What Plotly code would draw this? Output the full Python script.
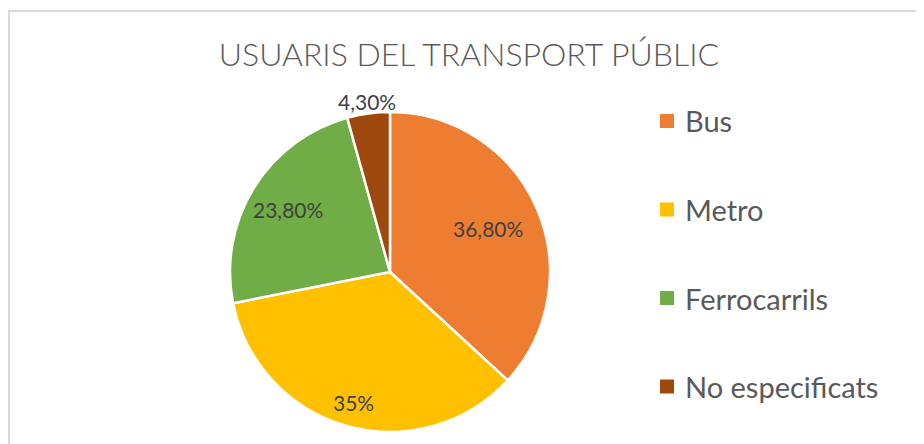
import math
import plotly.graph_objects as go

categories = ["Bus", "Metro", "Ferrocarrils", "No especificats"]
values = [36.8, 35.0, 23.8, 4.3]
colors = ["#ED7D31", "#FFC000", "#70AD47", "#9E480E"]
title_text = "USUARIS DEL TRANSPORT PÚBLIC"

W, H = 924, 444
OFF = 8  # page body margin offset

FONT = "Lato"


def fmt(v):
    if float(v).is_integer():
        return f"{int(v)}%"
    return f"{v:.2f}".replace(".", ",") + "%"


labels_txt = [fmt(v) for v in values]

# pie geometry (pixels in figure coordinates)
CX, CY, R = 390 - OFF, 272 - OFF, 160
label_radius = [0.67, 0.85, 0.75, 1.075]

fig = go.Figure()
fig.add_trace(go.Pie(
    labels=categories,
    values=values,
    text=labels_txt,
    textinfo="none",
    sort=False,
    direction="clockwise",
    rotation=0,
    marker=dict(colors=colors, line=dict(color="white", width=2.5)),
    domain=dict(x=[(CX - R) / W, (CX + R) / W],
                y=[1 - (CY + R) / H, 1 - (CY - R) / H]),
    showlegend=False,
    hovertemplate="%{label}: %{text}<extra></extra>",
))

# data labels placed at each slice's mid-angle
total = sum(values)
cum = 0.0
for v, txt, rf in zip(values, labels_txt, label_radius):
    mid = (cum + v / 2) / total * 2 * math.pi
    cum += v
    px = CX + rf * R * math.sin(mid)
    py = CY - rf * R * math.cos(mid)
    fig.add_annotation(xref="paper", yref="paper", x=px / W, y=1 - py / H,
                       xanchor="center", yanchor="middle", showarrow=False,
                       text=txt, font=dict(family=FONT, size=21, color="#404040"))

# legend drawn from categories/colors
y0 = 121 - OFF
step = 88.5
for i, (cat, col) in enumerate(zip(categories, colors)):
    yc = y0 + i * step
    fig.add_shape(type="rect", xref="paper", yref="paper",
                  x0=(660 - OFF) / W, x1=(674 - OFF) / W,
                  y0=1 - (yc + 7) / H, y1=1 - (yc - 7) / H,
                  fillcolor=col, line=dict(width=0))
    fig.add_annotation(xref="paper", yref="paper", x=(683 - OFF) / W, y=1 - yc / H,
                       xanchor="left", yanchor="middle", showarrow=False,
                       text=cat, font=dict(family=FONT, size=29, color="#595959"))

# chart border
fig.add_shape(type="rect", xref="paper", yref="paper",
              x0=1 / W, x1=1.1, y0=-0.1, y1=1 - 3 / H,
              line=dict(color="#D9D9D9", width=2), fillcolor="rgba(0,0,0,0)")

fig.update_layout(
    width=W, height=H,
    margin=dict(l=0, r=0, t=0, b=0),
    paper_bgcolor="white",
    plot_bgcolor="white",
    title=dict(text=title_text, x=(469 - OFF) / W, xanchor="center",
               y=1 - (55 - OFF) / H, yanchor="middle", yref="container",
               font=dict(family=FONT, size=32, color="#595959", weight=300)),
)

fig.write_html("out.html")
